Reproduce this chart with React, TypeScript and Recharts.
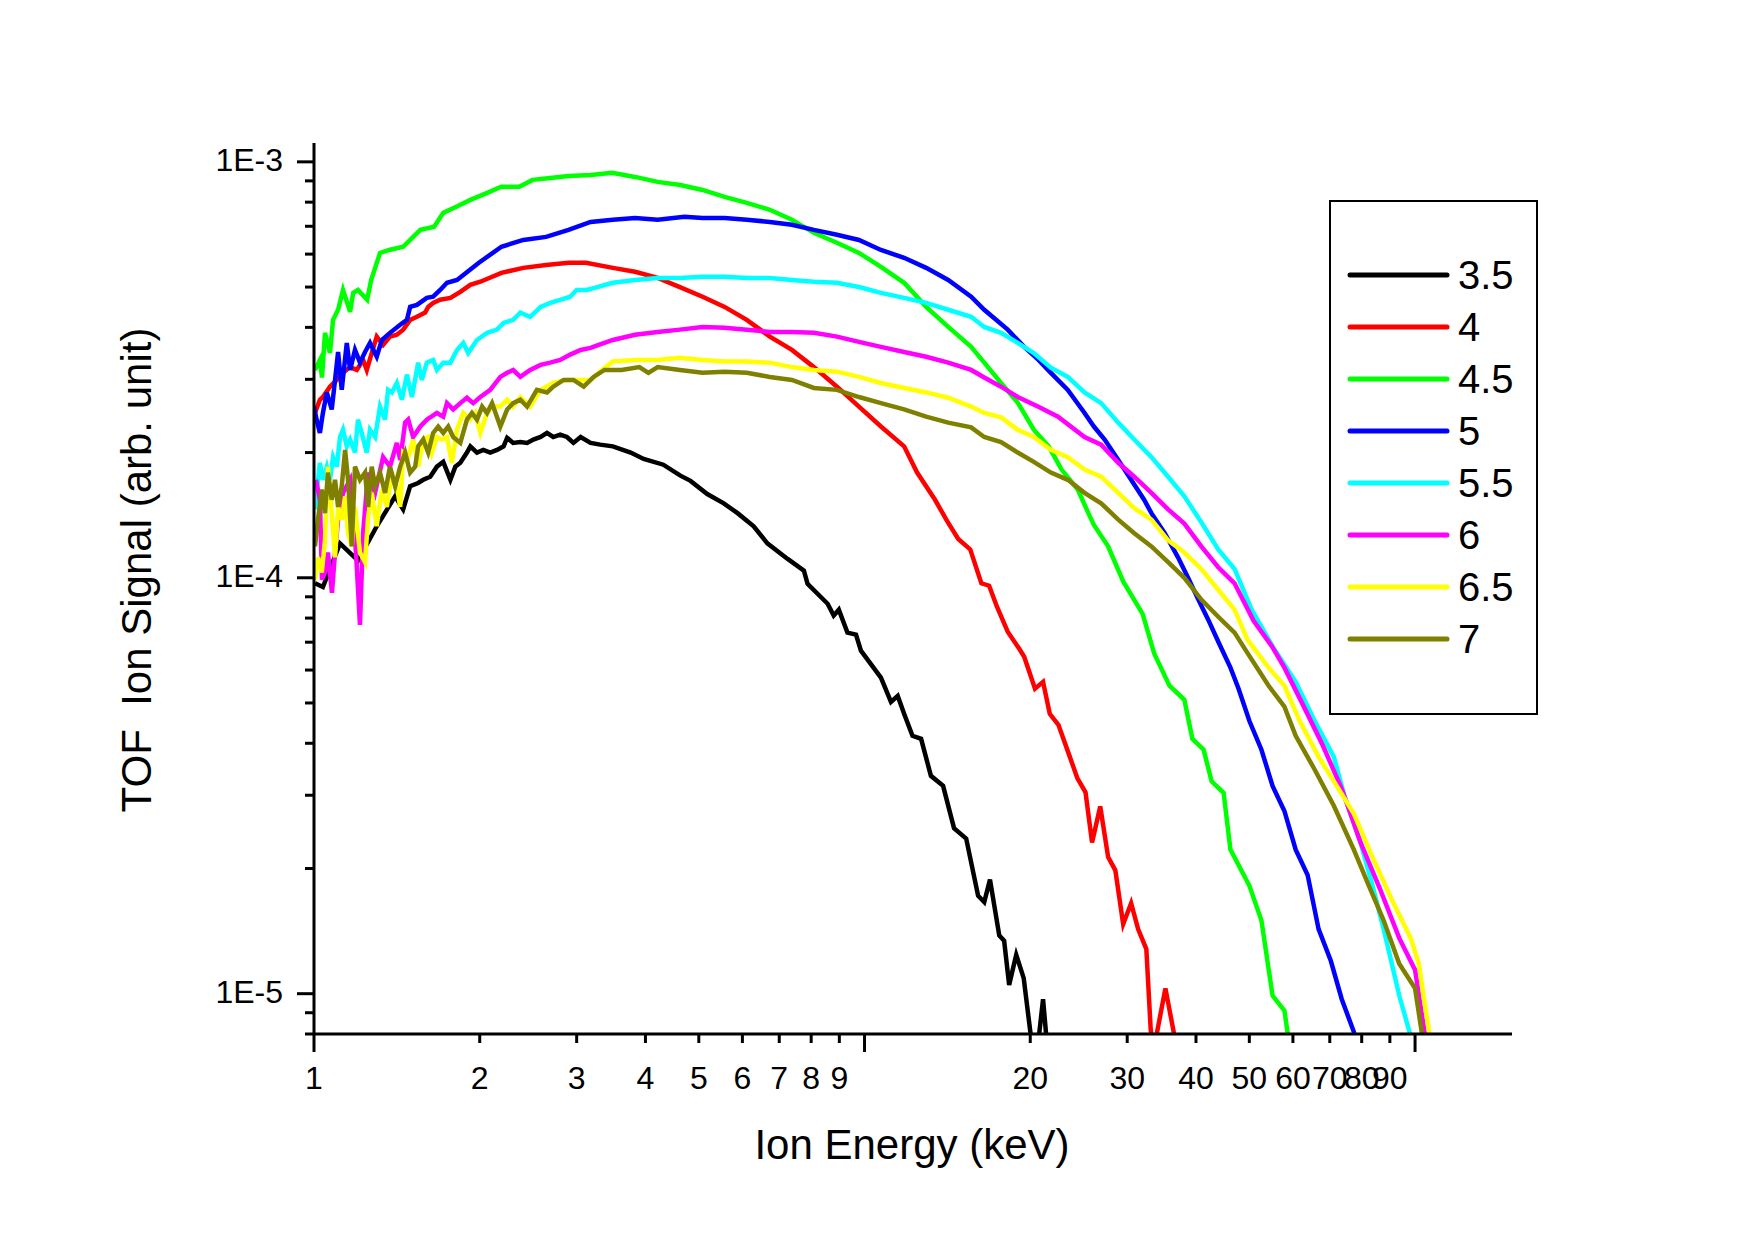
import React from "react";
import { LineChart, Line, XAxis, YAxis, Label, Legend } from "recharts";

const FONT = '"Liberation Sans", Arial, Helvetica, sans-serif';

// legend labels and colours, drawn in this order (7 on top)
const seriesNames = ["3.5", "4", "4.5", "5", "5.5", "6", "6.5", "7"];
const seriesColors = ["#000000", "#FF0000", "#00FF00", "#0000FF", "#00FFFF", "#FF00FF", "#FFFF00", "#808000"];

const energyTicks = [1, 2, 3, 4, 5, 6, 7, 8, 9, 10, 20, 30, 40, 50, 60, 70, 80, 90, 100];
const signalTicks = [
  8e-6, 9e-6, 1e-5, 2e-5, 3e-5, 4e-5, 5e-5, 6e-5, 7e-5, 8e-5, 9e-5,
  1e-4, 2e-4, 3e-4, 4e-4, 5e-4, 6e-4, 7e-4, 8e-4, 9e-4, 1e-3,
];

// [energy keV, signal]
const s35: [number, number][] = [
  [1.004, 9.7e-5], [1.038, 9.5e-5], [1.115, 1.21e-4], [1.202, 1.1e-4], [1.3, 1.33e-4], [1.404, 1.57e-4],
  [1.452, 1.46e-4], [1.495, 1.66e-4], [1.546, 1.69e-4], [1.579, 1.72e-4], [1.626, 1.75e-4], [1.672, 1.85e-4],
  [1.717, 1.9e-4], [1.769, 1.72e-4], [1.806, 1.85e-4], [1.844, 1.89e-4], [1.896, 2.0e-4], [1.923, 2.07e-4],
  [1.977, 2.0e-4], [2.03, 2.03e-4], [2.09, 2.0e-4], [2.15, 2.03e-4], [2.21, 2.07e-4], [2.243, 2.17e-4],
  [2.3, 2.11e-4], [2.37, 2.12e-4], [2.438, 2.11e-4], [2.503, 2.15e-4], [2.58, 2.18e-4], [2.65, 2.23e-4],
  [2.72, 2.18e-4], [2.8, 2.21e-4], [2.88, 2.18e-4], [2.96, 2.11e-4], [3.05, 2.18e-4], [3.18, 2.11e-4],
  [3.31, 2.09e-4], [3.49, 2.07e-4], [3.76, 2.0e-4], [3.97, 1.93e-4], [4.31, 1.87e-4], [4.63, 1.76e-4],
  [4.83, 1.71e-4], [5.18, 1.59e-4], [5.55, 1.51e-4], [5.88, 1.43e-4], [6.29, 1.33e-4], [6.66, 1.21e-4],
  [7.25, 1.11e-4], [7.76, 1.04e-4], [7.88, 9.67e-5], [8.57, 8.66e-5], [8.79, 8.11e-5], [8.98, 8.38e-5],
  [9.31, 7.38e-5], [9.65, 7.3e-5], [9.85, 6.68e-5], [10.71, 5.75e-5], [11.17, 5.03e-5], [11.49, 5.2e-5],
  [11.8, 4.71e-5], [12.22, 4.17e-5], [12.67, 4.1e-5], [13.2, 3.34e-5], [13.89, 3.16e-5], [14.54, 2.5e-5],
  [15.3, 2.36e-5], [16.08, 1.72e-5], [16.5, 1.66e-5], [16.9, 1.88e-5], [17.57, 1.38e-5], [17.93, 1.34e-5],
  [18.31, 1.05e-5], [18.86, 1.24e-5], [19.46, 1.09e-5], [20.2, 7.3e-6], [20.6, 7.3e-6], [21.1, 9.7e-6],
  [21.5, 7.3e-6],
];

const s40: [number, number][] = [
  [1.004, 2.49e-4], [1.025, 2.68e-4], [1.038, 2.72e-4], [1.069, 2.88e-4], [1.1, 2.99e-4], [1.129, 3.11e-4],
  [1.163, 3.21e-4], [1.196, 3.16e-4], [1.228, 3.34e-4], [1.247, 3.16e-4], [1.273, 3.47e-4], [1.3, 3.8e-4],
  [1.335, 3.63e-4], [1.374, 3.8e-4], [1.414, 3.84e-4], [1.452, 3.95e-4], [1.495, 4.17e-4], [1.538, 4.24e-4],
  [1.592, 4.34e-4], [1.612, 4.48e-4], [1.646, 4.58e-4], [1.695, 4.66e-4], [1.769, 4.71e-4], [1.844, 4.87e-4],
  [1.923, 5.06e-4], [2.005, 5.15e-4], [2.19, 5.41e-4], [2.4, 5.56e-4], [2.64, 5.65e-4], [2.9, 5.72e-4],
  [3.12, 5.72e-4], [3.49, 5.56e-4], [3.83, 5.44e-4], [4.21, 5.26e-4], [4.62, 5.0e-4], [5.08, 4.74e-4],
  [5.57, 4.48e-4], [6.11, 4.17e-4], [6.73, 3.8e-4], [7.38, 3.53e-4], [8.09, 3.21e-4], [8.91, 2.88e-4],
  [9.77, 2.58e-4], [10.71, 2.31e-4], [11.8, 2.07e-4], [12.46, 1.79e-4], [13.43, 1.54e-4], [14.12, 1.37e-4],
  [14.8, 1.24e-4], [15.56, 1.17e-4], [16.3, 9.7e-5], [16.84, 9.57e-5], [17.4, 8.52e-5], [18.2, 7.42e-5],
  [19.1, 6.75e-5], [19.5, 6.46e-5], [20.4, 5.41e-5], [21.1, 5.62e-5], [21.7, 4.71e-5], [22.5, 4.43e-5],
  [23.6, 3.71e-5], [24.35, 3.3e-5], [25.2, 3.05e-5], [25.9, 2.31e-5], [26.8, 2.82e-5], [27.7, 2.13e-5],
  [28.55, 1.98e-5], [29.5, 1.47e-5], [30.5, 1.65e-5], [31.4, 1.43e-5], [32.5, 1.28e-5], [33.1, 8.2e-6],
  [33.5, 7.3e-6], [35.2, 1.03e-5], [36.7, 7.7e-6],
];

const s45: [number, number][] = [
  [1.004, 3.16e-4], [1.025, 3.34e-4], [1.034, 3.03e-4], [1.047, 3.88e-4], [1.069, 3.47e-4], [1.083, 4.17e-4],
  [1.106, 4.41e-4], [1.129, 4.92e-4], [1.163, 4.36e-4], [1.178, 4.84e-4], [1.202, 4.92e-4], [1.249, 4.66e-4],
  [1.27, 5.2e-4], [1.318, 6.04e-4], [1.369, 6.14e-4], [1.452, 6.25e-4], [1.56, 6.86e-4], [1.653, 6.98e-4],
  [1.717, 7.54e-4], [1.813, 7.8e-4], [1.923, 8.1e-4], [2.064, 8.42e-4], [2.188, 8.71e-4], [2.36, 8.71e-4],
  [2.494, 9.05e-4], [2.686, 9.15e-4], [2.9, 9.25e-4], [3.18, 9.3e-4], [3.48, 9.41e-4], [3.83, 9.2e-4],
  [4.21, 8.95e-4], [4.63, 8.8e-4], [5.08, 8.56e-4], [5.57, 8.24e-4], [6.11, 7.97e-4], [6.73, 7.67e-4],
  [7.38, 7.26e-4], [8.09, 6.75e-4], [8.91, 6.39e-4], [9.77, 6.04e-4], [10.71, 5.59e-4], [11.8, 5.12e-4],
  [12.94, 4.48e-4], [14.19, 4.01e-4], [15.62, 3.59e-4], [16.5, 3.29e-4], [17.7, 2.94e-4], [19.0, 2.63e-4],
  [20.3, 2.27e-4], [21.6, 2.07e-4], [22.8, 1.82e-4], [24.4, 1.63e-4], [25.5, 1.43e-4], [26.1, 1.34e-4],
  [27.7, 1.19e-4], [29.5, 9.8e-5], [32.0, 8.19e-5], [33.6, 6.57e-5], [35.8, 5.5e-5], [38.1, 5.09e-5],
  [39.4, 4.1e-5], [41.3, 3.86e-5], [42.7, 3.24e-5], [44.9, 3.04e-5], [46.2, 2.22e-5], [50.0, 1.82e-5],
  [52.6, 1.5e-5], [55.1, 9.9e-6], [57.9, 9.1e-6], [59.7, 6.9e-6],
];

const s50: [number, number][] = [
  [1.0, 2.58e-4], [1.011, 2.4e-4], [1.025, 2.23e-4], [1.038, 2.49e-4], [1.055, 2.79e-4], [1.077, 2.54e-4],
  [1.092, 2.99e-4], [1.106, 3.49e-4], [1.123, 2.83e-4], [1.147, 3.67e-4], [1.163, 3.16e-4], [1.187, 3.53e-4],
  [1.212, 3.29e-4], [1.238, 3.49e-4], [1.264, 3.67e-4], [1.3, 3.4e-4], [1.328, 3.73e-4], [1.374, 3.88e-4],
  [1.434, 4.06e-4], [1.475, 4.17e-4], [1.495, 4.48e-4], [1.538, 4.53e-4], [1.603, 4.71e-4], [1.646, 4.74e-4],
  [1.695, 4.92e-4], [1.744, 5.12e-4], [1.819, 5.2e-4], [1.993, 5.72e-4], [2.19, 6.25e-4], [2.4, 6.49e-4],
  [2.64, 6.6e-4], [2.9, 6.86e-4], [3.18, 7.17e-4], [3.49, 7.26e-4], [3.83, 7.33e-4], [4.21, 7.26e-4],
  [4.71, 7.38e-4], [5.08, 7.33e-4], [5.57, 7.33e-4], [6.11, 7.26e-4], [6.73, 7.17e-4], [7.38, 7.06e-4],
  [8.09, 6.86e-4], [8.91, 6.68e-4], [9.77, 6.49e-4], [10.71, 6.14e-4], [11.8, 5.88e-4], [12.94, 5.56e-4],
  [14.19, 5.2e-4], [15.62, 4.74e-4], [16.5, 4.41e-4], [18.2, 3.95e-4], [19.5, 3.59e-4], [20.7, 3.34e-4],
  [21.8, 3.11e-4], [23.4, 2.83e-4], [25.1, 2.49e-4], [26.1, 2.31e-4], [27.3, 2.15e-4], [28.9, 1.92e-4],
  [30.5, 1.72e-4], [32.2, 1.54e-4], [33.2, 1.43e-4], [35.1, 1.28e-4], [37.1, 1.12e-4], [38.7, 1.0e-4],
  [40.4, 8.86e-5], [42.1, 7.93e-5], [44.0, 6.98e-5], [46.2, 6.08e-5], [47.8, 5.41e-5], [50.0, 4.53e-5],
  [52.6, 3.86e-5], [55.1, 3.16e-5], [57.9, 2.75e-5], [60.7, 2.22e-5], [63.8, 1.93e-5], [66.8, 1.43e-5],
  [70.3, 1.2e-5], [73.6, 9.7e-6], [77.4, 8.1e-6], [78.7, 7.3e-6],
];

const s55: [number, number][] = [
  [1.004, 1.46e-4], [1.011, 1.6e-4], [1.025, 1.89e-4], [1.038, 1.72e-4], [1.055, 1.85e-4], [1.069, 1.72e-4],
  [1.083, 1.95e-4], [1.1, 1.85e-4], [1.115, 2.18e-4], [1.129, 2.27e-4], [1.147, 2.07e-4], [1.163, 2.15e-4],
  [1.187, 2.0e-4], [1.202, 2.4e-4], [1.221, 2.23e-4], [1.247, 2.0e-4], [1.264, 2.27e-4], [1.291, 2.18e-4],
  [1.318, 2.58e-4], [1.346, 2.4e-4], [1.363, 2.83e-4], [1.385, 2.79e-4], [1.414, 2.94e-4], [1.444, 2.68e-4],
  [1.475, 3.08e-4], [1.506, 2.72e-4], [1.546, 3.29e-4], [1.57, 2.99e-4], [1.603, 3.29e-4], [1.646, 3.34e-4],
  [1.672, 3.16e-4], [1.717, 3.29e-4], [1.769, 3.29e-4], [1.819, 3.53e-4], [1.867, 3.67e-4], [1.906, 3.47e-4],
  [1.977, 3.73e-4], [2.062, 3.88e-4], [2.15, 3.95e-4], [2.21, 4.1e-4], [2.3, 4.17e-4], [2.37, 4.34e-4],
  [2.47, 4.24e-4], [2.58, 4.48e-4], [2.686, 4.58e-4], [2.8, 4.66e-4], [2.92, 4.74e-4], [3.0, 4.92e-4],
  [3.13, 4.92e-4], [3.27, 5.0e-4], [3.49, 5.12e-4], [3.83, 5.2e-4], [4.21, 5.26e-4], [4.62, 5.26e-4],
  [5.08, 5.29e-4], [5.57, 5.29e-4], [6.11, 5.26e-4], [6.73, 5.26e-4], [7.38, 5.2e-4], [8.09, 5.15e-4],
  [8.91, 5.12e-4], [9.77, 5.0e-4], [10.71, 4.84e-4], [11.8, 4.71e-4], [12.94, 4.58e-4], [14.19, 4.41e-4],
  [15.62, 4.24e-4], [16.5, 4.01e-4], [17.7, 3.88e-4], [18.98, 3.67e-4], [20.3, 3.47e-4], [21.8, 3.2e-4],
  [23.4, 3.04e-4], [25.1, 2.79e-4], [26.9, 2.63e-4], [28.9, 2.36e-4], [30.9, 2.15e-4], [33.2, 1.95e-4],
  [35.6, 1.75e-4], [38.1, 1.57e-4], [40.9, 1.36e-4], [43.9, 1.17e-4], [47.0, 1.05e-4], [50.5, 8.38e-5],
  [55.3, 6.79e-5], [60.7, 5.62e-5], [65.7, 4.53e-5], [71.2, 3.71e-5], [74.8, 2.92e-5], [79.6, 2.31e-5],
  [83.7, 1.82e-5], [87.7, 1.43e-5], [93.6, 9.9e-6], [98.2, 7.9e-6], [99.3, 7.6e-6],
];

const s60: [number, number][] = [
  [1.008, 1.72e-4], [1.025, 1.54e-4], [1.034, 9.9e-5], [1.047, 1.03e-4], [1.06, 1.15e-4], [1.078, 9.2e-5],
  [1.092, 1.15e-4], [1.106, 1.38e-4], [1.129, 1.6e-4], [1.163, 1.72e-4], [1.192, 1.15e-4], [1.212, 7.7e-5],
  [1.228, 1.28e-4], [1.254, 1.79e-4], [1.291, 1.6e-4], [1.335, 1.95e-4], [1.374, 1.85e-4], [1.414, 2.11e-4],
  [1.434, 1.92e-4], [1.464, 2.36e-4], [1.483, 2.4e-4], [1.514, 2.18e-4], [1.56, 2.31e-4], [1.603, 2.4e-4],
  [1.672, 2.49e-4], [1.717, 2.44e-4], [1.744, 2.63e-4], [1.79, 2.54e-4], [1.844, 2.63e-4], [1.896, 2.71e-4],
  [1.946, 2.63e-4], [2.005, 2.72e-4], [2.09, 2.83e-4], [2.18, 3.04e-4], [2.243, 3.11e-4], [2.3, 3.16e-4],
  [2.37, 3.04e-4], [2.47, 3.16e-4], [2.58, 3.25e-4], [2.686, 3.29e-4], [2.8, 3.34e-4], [2.92, 3.44e-4],
  [3.05, 3.53e-4], [3.18, 3.57e-4], [3.29, 3.63e-4], [3.49, 3.73e-4], [3.83, 3.84e-4], [4.21, 3.9e-4],
  [4.62, 3.95e-4], [5.08, 4.01e-4], [5.57, 3.99e-4], [6.11, 3.95e-4], [6.73, 3.9e-4], [7.38, 3.9e-4],
  [8.09, 3.88e-4], [8.91, 3.8e-4], [9.77, 3.69e-4], [10.71, 3.59e-4], [11.8, 3.49e-4], [12.94, 3.4e-4],
  [14.19, 3.29e-4], [15.62, 3.16e-4], [16.5, 3.03e-4], [17.7, 2.88e-4], [18.98, 2.72e-4], [20.65, 2.58e-4],
  [22.46, 2.44e-4], [25.1, 2.18e-4], [26.9, 2.09e-4], [28.9, 1.89e-4], [30.9, 1.75e-4], [33.2, 1.6e-4],
  [35.6, 1.46e-4], [38.1, 1.35e-4], [40.9, 1.19e-4], [43.9, 1.06e-4], [47.0, 9.7e-5], [50.9, 7.88e-5],
  [55.0, 6.83e-5], [57.9, 6.08e-5], [62.8, 4.9e-5], [68.0, 3.95e-5], [73.6, 3.11e-5], [79.6, 2.31e-5],
  [86.3, 1.79e-5], [93.6, 1.36e-5], [100, 1.14e-5], [103.1, 8.75e-6], [104.6, 7.7e-6],
];

const s65: [number, number][] = [
  [1.004, 9.9e-5], [1.017, 1.12e-4], [1.033, 1.03e-4], [1.047, 1.23e-4], [1.06, 1.85e-4], [1.077, 1.43e-4],
  [1.092, 1.12e-4], [1.106, 1.48e-4], [1.123, 1.38e-4], [1.139, 1.57e-4], [1.153, 1.28e-4], [1.171, 1.19e-4],
  [1.187, 1.48e-4], [1.212, 1.15e-4], [1.238, 1.09e-4], [1.254, 1.4e-4], [1.273, 1.6e-4], [1.3, 1.33e-4],
  [1.328, 1.63e-4], [1.356, 1.48e-4], [1.385, 1.79e-4], [1.414, 1.66e-4], [1.434, 1.48e-4], [1.452, 2.0e-4],
  [1.483, 1.95e-4], [1.514, 2.15e-4], [1.546, 1.85e-4], [1.579, 2.15e-4], [1.612, 2.18e-4], [1.637, 2.0e-4],
  [1.672, 2.18e-4], [1.707, 2.15e-4], [1.744, 2.18e-4], [1.78, 1.89e-4], [1.819, 2.27e-4], [1.867, 2.49e-4],
  [1.923, 2.4e-4], [1.963, 2.49e-4], [2.005, 2.23e-4], [2.062, 2.49e-4], [2.117, 2.58e-4], [2.18, 2.58e-4],
  [2.243, 2.68e-4], [2.3, 2.58e-4], [2.37, 2.72e-4], [2.47, 2.58e-4], [2.58, 2.83e-4], [2.72, 2.94e-4],
  [2.88, 2.99e-4], [3.05, 2.99e-4], [3.18, 2.99e-4], [3.29, 3.11e-4], [3.49, 3.31e-4], [3.83, 3.34e-4],
  [4.21, 3.34e-4], [4.62, 3.38e-4], [5.08, 3.34e-4], [5.57, 3.31e-4], [6.11, 3.31e-4], [6.73, 3.29e-4],
  [7.38, 3.21e-4], [8.09, 3.16e-4], [8.91, 3.13e-4], [9.77, 3.04e-4], [10.71, 2.94e-4], [11.8, 2.86e-4],
  [12.94, 2.79e-4], [14.19, 2.71e-4], [15.62, 2.58e-4], [16.5, 2.49e-4], [17.7, 2.43e-4], [18.98, 2.27e-4],
  [20.3, 2.18e-4], [21.8, 2.03e-4], [23.4, 1.95e-4], [25.1, 1.82e-4], [26.9, 1.75e-4], [28.9, 1.6e-4],
  [30.9, 1.47e-4], [33.2, 1.38e-4], [35.6, 1.23e-4], [38.1, 1.15e-4], [40.9, 1.05e-4], [43.9, 9.36e-5],
  [47.0, 8.38e-5], [49.6, 7.1e-5], [54.2, 6.08e-5], [57.9, 5.5e-5], [61.7, 4.53e-5], [66.8, 3.71e-5],
  [71.2, 3.24e-5], [77.4, 2.71e-5], [83.7, 2.13e-5], [90.8, 1.68e-5], [98.2, 1.36e-5], [101.6, 1.18e-5],
  [103.8, 9.7e-6], [106.4, 7.9e-6], [107.3, 7.6e-6],
];

const s70: [number, number][] = [
  [1.004, 1.19e-4], [1.017, 1.38e-4], [1.033, 1.63e-4], [1.047, 1.43e-4], [1.06, 1.79e-4], [1.077, 1.54e-4],
  [1.092, 1.72e-4], [1.106, 1.48e-4], [1.123, 1.66e-4], [1.139, 2.03e-4], [1.153, 1.72e-4], [1.171, 1.19e-4],
  [1.187, 1.85e-4], [1.212, 1.72e-4], [1.238, 1.79e-4], [1.254, 1.48e-4], [1.273, 1.85e-4], [1.291, 1.66e-4],
  [1.318, 1.79e-4], [1.346, 1.6e-4], [1.374, 1.85e-4], [1.404, 1.66e-4], [1.434, 1.85e-4], [1.464, 2.0e-4],
  [1.495, 1.79e-4], [1.527, 1.85e-4], [1.546, 2.07e-4], [1.579, 2.15e-4], [1.612, 2.0e-4], [1.646, 2.23e-4],
  [1.681, 2.31e-4], [1.717, 2.23e-4], [1.753, 2.31e-4], [1.79, 2.18e-4], [1.844, 2.11e-4], [1.896, 2.4e-4],
  [1.936, 2.49e-4], [1.977, 2.4e-4], [2.02, 2.58e-4], [2.062, 2.49e-4], [2.106, 2.63e-4], [2.18, 2.31e-4],
  [2.243, 2.54e-4], [2.3, 2.63e-4], [2.37, 2.68e-4], [2.438, 2.58e-4], [2.54, 2.83e-4], [2.65, 2.79e-4],
  [2.72, 2.88e-4], [2.84, 2.99e-4], [2.96, 2.99e-4], [3.09, 2.88e-4], [3.22, 3.04e-4], [3.37, 3.16e-4],
  [3.62, 3.16e-4], [3.9, 3.21e-4], [4.05, 3.11e-4], [4.21, 3.21e-4], [4.62, 3.16e-4], [5.08, 3.11e-4],
  [5.57, 3.13e-4], [6.11, 3.11e-4], [6.73, 3.04e-4], [7.38, 2.99e-4], [8.09, 2.86e-4], [8.91, 2.83e-4],
  [9.77, 2.72e-4], [10.71, 2.63e-4], [11.8, 2.54e-4], [12.94, 2.44e-4], [14.19, 2.36e-4], [15.62, 2.3e-4],
  [16.5, 2.18e-4], [17.7, 2.12e-4], [18.98, 2.0e-4], [20.3, 1.9e-4], [21.8, 1.79e-4], [23.4, 1.72e-4],
  [25.1, 1.6e-4], [26.9, 1.51e-4], [28.9, 1.38e-4], [30.9, 1.28e-4], [33.2, 1.19e-4], [35.6, 1.09e-4],
  [38.1, 1.0e-4], [40.9, 8.86e-5], [43.9, 8.06e-5], [47.0, 7.38e-5], [49.2, 6.71e-5], [54.2, 5.5e-5],
  [57.9, 4.9e-5], [60.7, 4.17e-5], [65.7, 3.46e-5], [71.2, 2.83e-5], [77.4, 2.22e-5], [82.4, 1.82e-5],
  [87.7, 1.5e-5], [93.6, 1.18e-5], [100, 1.03e-5], [103.1, 7.9e-6], [103.8, 7.6e-6],
];

const seriesPoints = [s35, s40, s45, s50, s55, s60, s65, s70];

const series = seriesPoints.map((pts, i) => ({
  name: seriesNames[i],
  color: seriesColors[i],
  rows: pts.map(([e, s]) => ({ e, s })),
}));

const XTick = (props: any) => {
  const { x, y, payload } = props;
  const v = payload.value;
  const major = v === 1 || v === 10 || v === 100;
  const showLabel = v !== 10 && v !== 100;
  return (
    <g>
      <line x1={x} y1={y} x2={x} y2={y + (major ? 18 : 9)} stroke="#000" strokeWidth={3} />
      {showLabel && (
        <text x={x} y={y + 55} textAnchor="middle" fontSize={32} fontFamily={FONT} fill="#000">
          {v}
        </text>
      )}
    </g>
  );
};

const YTick = (props: any) => {
  const { x, y, payload } = props;
  const lg = Math.log10(payload.value);
  const major = Math.abs(lg - Math.round(lg)) < 1e-6;
  return (
    <g>
      <line x1={x} y1={y} x2={x - (major ? 17 : 9)} y2={y} stroke="#000" strokeWidth={3} />
      {major && (
        <text x={x - 31} y={y + 9} textAnchor="end" fontSize={32} fontFamily={FONT} fill="#000">
          {`1E${Math.round(lg)}`}
        </text>
      )}
    </g>
  );
};

const LegendBox = () => (
  <svg width={210} height={516} style={{ display: "block" }}>
    <rect x={1} y={1} width={207} height={513} fill="#fff" stroke="#000" strokeWidth={2} />
    {series.map((s, i) => {
      const cy = 75 + i * 52;
      return (
        <g key={s.name}>
          <line x1={21} y1={cy} x2={118} y2={cy} stroke={s.color} strokeWidth={5} strokeLinecap="round" />
          <text x={129} y={cy + 14} fontSize={40} fontFamily={FONT} fill="#000">
            {s.name}
          </text>
        </g>
      );
    })}
  </svg>
);

export default function App() {
  return (
    <div style={{ position: "absolute", left: 0, top: 0, width: 1754, height: 1240, background: "#fff" }}>
      <LineChart width={1754} height={1240} margin={{ top: 143, right: 242, bottom: 81, left: 214 }}>
        <XAxis
          type="number"
          dataKey="e"
          scale="log"
          domain={[1, 150]}
          allowDataOverflow
          ticks={energyTicks}
          interval={0}
          tickSize={0}
          tickMargin={0}
          tickLine={false}
          tick={(p: any) => <XTick {...p} />}
          height={125}
          axisLine={{ stroke: "#000", strokeWidth: 3 }}
        >
          <Label
            content={() => (
              <text x={912} y={1159} textAnchor="middle" fontSize={42} fontFamily={FONT} fill="#000">
                Ion Energy (keV)
              </text>
            )}
          />
        </XAxis>
        <YAxis
          type="number"
          scale="log"
          domain={[8e-6, 1.11e-3]}
          allowDataOverflow
          ticks={signalTicks}
          interval={0}
          tickSize={0}
          tickMargin={0}
          tickLine={false}
          tick={(p: any) => <YTick {...p} />}
          width={100}
          axisLine={{ stroke: "#000", strokeWidth: 3 }}
        >
          <Label
            content={() => (
              <text
                x={151}
                y={570}
                transform="rotate(-90 151 570)"
                textAnchor="middle"
                fontSize={42}
                fontFamily={FONT}
                fill="#000"
                style={{ whiteSpace: "pre" }}
              >
                {"TOF  Ion Signal (arb. unit)"}
              </text>
            )}
          />
        </YAxis>
        <Legend
          layout="vertical"
          align="center"
          verticalAlign="middle"
          wrapperStyle={{ left: 1329, top: 200, width: 210, height: 516 }}
          content={() => <LegendBox />}
        />
        {series.map((s) => (
          <Line
            key={s.name}
            data={s.rows}
            dataKey="s"
            name={s.name}
            type="linear"
            stroke={s.color}
            strokeWidth={4.5}
            dot={false}
            activeDot={false}
            isAnimationActive={false}
          />
        ))}
      </LineChart>
    </div>
  );
}
